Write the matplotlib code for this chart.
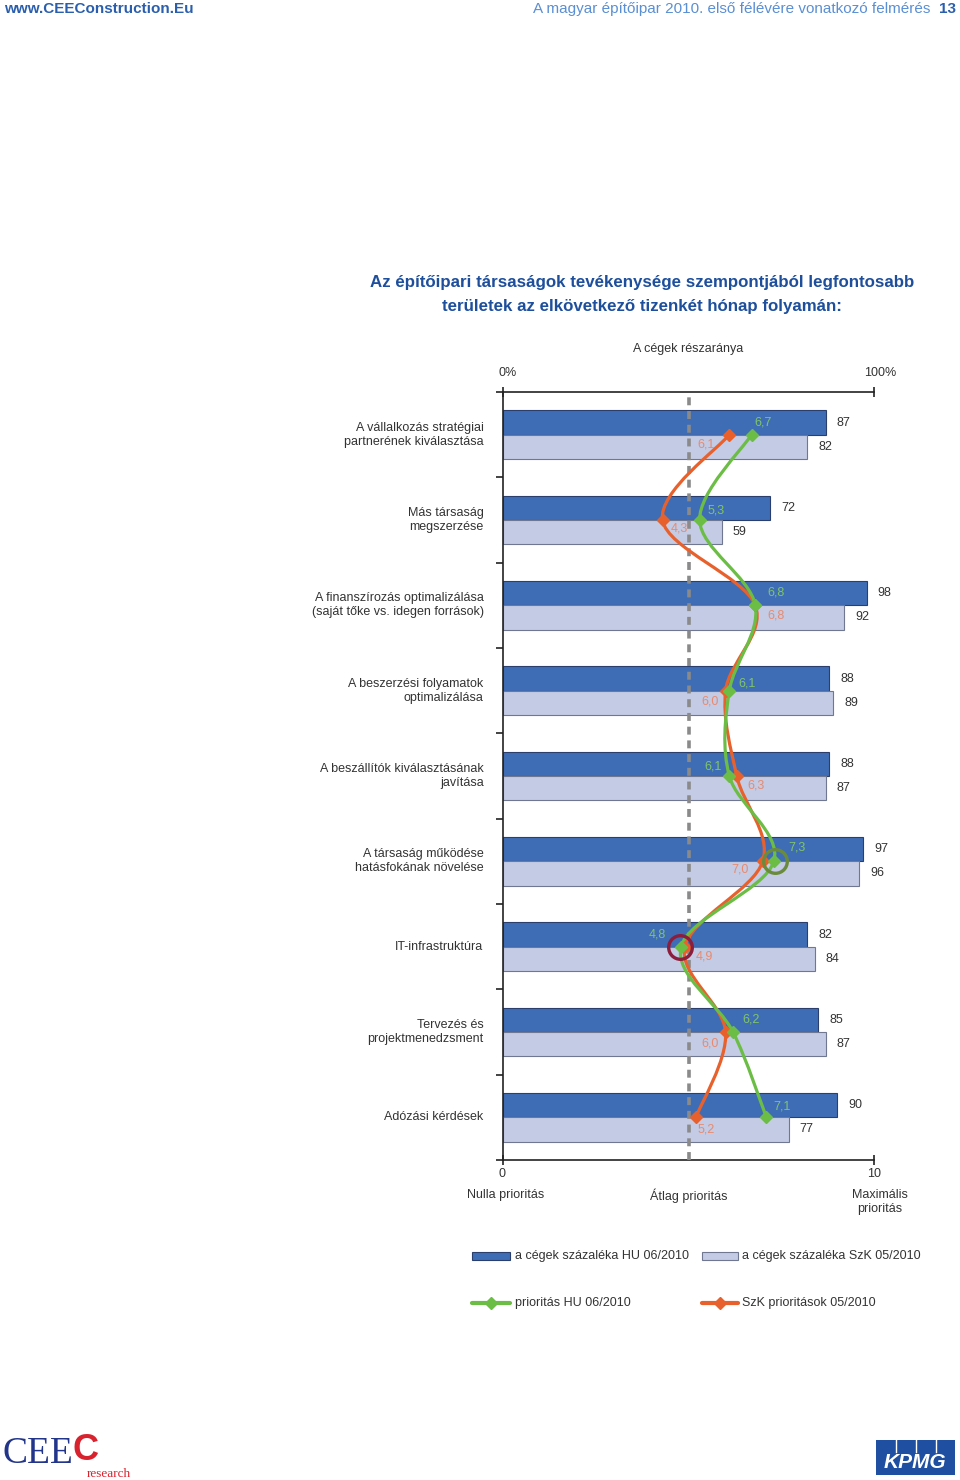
import numpy as np
import matplotlib
matplotlib.use("Agg")
import matplotlib.pyplot as plt
from matplotlib.path import Path
from matplotlib.patches import PathPatch, Rectangle
from matplotlib.lines import Line2D

plt.rcParams['font.family'] = ['Liberation Sans', 'DejaVu Sans']

categories = [
    "A vállalkozás stratégiai\npartnerének kiválasztása",
    "Más társaság\nmegszerzése",
    "A finanszírozás optimalizálása\n(saját tőke vs. idegen források)",
    "A beszerzési folyamatok\noptimalizálása",
    "A beszállítók kiválasztásának\njavítása",
    "A társaság működése\nhatásfokának növelése",
    "IT-infrastruktúra",
    "Tervezés és\nprojektmenedzsment",
    "Adózási kérdések",
]
share_hu = [87, 72, 98, 88, 88, 97, 82, 85, 90]
share_szk = [82, 59, 92, 89, 87, 96, 84, 87, 77]
prio_hu = [6.7, 5.3, 6.8, 6.1, 6.1, 7.3, 4.8, 6.2, 7.1]
prio_szk = [6.1, 4.3, 6.8, 6.0, 6.3, 7.0, 4.9, 6.0, 5.2]

# label offsets in points (dx, dy) for the priority labels
off_hu = [(8, 9), (12, 7), (15, 9), (13, 5), (-12, 7), (17, 10), (-17, 9), (13, 9), (11, 8)]
off_szk = [(-17, -7), (12, -6), (15, -7), (-11, -8), (14, -7), (-16, -6), (14, -7), (-11, -8), (7, -9)]

C_DARK = '#3f6db5'
C_LIGHT = '#c3cbe5'
C_GREEN = '#6cbd45'
C_ORANGE = '#e8612c'
C_GREEN_T = '#7fc46a'
C_ORANGE_T = '#e98a6e'
C_TITLE = '#1d4f9c'
C_TEXT = '#333333'

W, H = 960, 1480
fig = plt.figure(figsize=(W / 100, H / 100), dpi=100)


def fx(px):
    return px / W


def fy(py):
    return 1 - py / H


ax = fig.add_axes([fx(503), fy(1160), fx(874) - fx(503), fy(392) - fy(1160)])
ax.set_xlim(0, 100)
ax.set_ylim(8.5, -0.5)

y = np.arange(len(categories))
bh = 0.285
ax.barh(y - bh / 2, share_hu, height=bh, color=C_DARK, edgecolor='#2b3f6e', linewidth=0.8, zorder=2)
ax.barh(y + bh / 2, share_szk, height=bh, color=C_LIGHT, edgecolor='#6f7890', linewidth=0.8, zorder=2)

for i in range(len(categories)):
    ax.annotate(str(share_hu[i]), (share_hu[i], y[i] - bh / 2), xytext=(8, 0), textcoords='offset points',
                va='center', ha='left', fontsize=9, color=C_TEXT)
    ax.annotate(str(share_szk[i]), (share_szk[i], y[i] + bh / 2), xytext=(8, 0), textcoords='offset points',
                va='center', ha='left', fontsize=9, color=C_TEXT)
    ax.annotate(categories[i], (0, y[i]), xytext=(-14, 0), textcoords='offset points', ha='right',
                va='center', fontsize=9, color=C_TEXT, linespacing=1.25)

# average priority line
ax.axvline(50, color='#8a8a8a', lw=2.6, ls=(0, (2.2, 1.6)), zorder=3)


def smooth_path(xs, ys):
    pts = np.column_stack([xs, ys])
    n = len(pts)
    verts = [pts[0]]
    codes = [Path.MOVETO]
    for i in range(n - 1):
        p0 = pts[i - 1] if i > 0 else pts[i]
        p1 = pts[i]
        p2 = pts[i + 1]
        p3 = pts[i + 2] if i + 2 < n else pts[i + 1]
        c1 = p1 + (p2 - p0) / 6
        c2 = p2 - (p3 - p1) / 6
        verts += [c1, c2, p2]
        codes += [Path.CURVE4] * 3
    return Path(verts, codes)


xh = np.array(prio_hu) * 10
xs = np.array(prio_szk) * 10
ax.add_patch(PathPatch(smooth_path(xs, y), fc='none', ec=C_ORANGE, lw=2.3, zorder=4, capstyle='round'))
ax.add_patch(PathPatch(smooth_path(xh, y), fc='none', ec=C_GREEN, lw=2.3, zorder=5, capstyle='round'))
ax.plot(xs, y, ls='none', marker='D', ms=6, color=C_ORANGE, zorder=6)
ax.plot(xh, y, ls='none', marker='D', ms=6, color=C_GREEN, zorder=6)

for i in range(len(categories)):
    ax.annotate(f"{prio_hu[i]:.1f}".replace('.', ','), (xh[i], y[i]), xytext=off_hu[i], textcoords='offset points',
                ha='center', va='center', fontsize=9, color=C_GREEN_T, zorder=7)
    ax.annotate(f"{prio_szk[i]:.1f}".replace('.', ','), (xs[i], y[i]), xytext=off_szk[i], textcoords='offset points',
                ha='center', va='center', fontsize=9, color=C_ORANGE_T, zorder=7)

# highlight circles
ax.plot([73.2], [5.0], marker='o', ms=17, mfc='none', mec='#6b8b3c', mew=2.4, zorder=8)
ax.plot([47.8], [6.0], marker='o', ms=17, mfc='none', mec='#8c1d3c', mew=2.4, zorder=8)

# spines and ticks
ax.spines['right'].set_visible(False)
for s in ['left', 'top', 'bottom']:
    ax.spines[s].set_color('#222222')
    ax.spines[s].set_linewidth(1.2)
ax.set_yticks(np.arange(-0.5, 8.6, 1.0))
ax.set_yticklabels([])
ax.tick_params(axis='y', length=5, width=1.2, direction='out', color='#222222')
ax.set_xticks([0, 100])
ax.set_xticklabels([])
ax.tick_params(axis='x', top=True, bottom=True, length=7, width=1.2, direction='inout', color='#222222')

# axis texts
fig.text(fx(688), fy(349), "A cégek részaránya", ha='center', va='center', fontsize=9, color=C_TEXT)
fig.text(fx(508), fy(373), "0%", ha='center', va='center', fontsize=9, color=C_TEXT)
fig.text(fx(880), fy(373), "100%", ha='center', va='center', fontsize=9, color=C_TEXT)
fig.text(fx(502), fy(1174), "0", ha='center', va='center', fontsize=9, color=C_TEXT)
fig.text(fx(874), fy(1174), "10", ha='center', va='center', fontsize=9, color=C_TEXT)
fig.text(fx(506), fy(1195), "Nulla prioritás", ha='center', va='center', fontsize=9, color=C_TEXT)
fig.text(fx(689), fy(1196), "Átlag prioritás", ha='center', va='center', fontsize=9, color=C_TEXT)
fig.text(fx(880), fy(1202), "Maximális\nprioritás", ha='center', va='center', fontsize=9, color=C_TEXT,
         linespacing=1.2)

# title
fig.text(fx(642), fy(282), "Az építőipari társaságok tevékenysége szempontjából legfontosabb",
         ha='center', va='center', fontsize=12.2, fontweight='bold', color=C_TITLE)
fig.text(fx(642), fy(307), "területek az elkövetkező tizenkét hónap folyamán:",
         ha='center', va='center', fontsize=12.2, fontweight='bold', color=C_TITLE)

# header
fig.text(fx(4), fy(9), "www.CEEConstruction.Eu", ha='left', va='center', fontsize=11, fontweight='bold',
         color='#2b5fae')
fig.text(fx(930), fy(9), "A magyar építőipar 2010. első félévére vonatkozó felmérés", ha='right', va='center',
         fontsize=11, color='#5a8fd4')
fig.text(fx(956), fy(9), "13", ha='right', va='center', fontsize=11, fontweight='bold', color='#2b5fae')

# legend (manual)
lax = fig.add_axes([0, 0, 1, 1], facecolor='none')
lax.set_xlim(0, W)
lax.set_ylim(H, 0)
lax.axis('off')
lax.add_patch(Rectangle((472, 1252), 38, 8, fc=C_DARK, ec='#2b3f6e', lw=0.8))
lax.add_patch(Rectangle((702, 1252), 36, 8, fc=C_LIGHT, ec='#6f7890', lw=0.8))
lax.text(515, 1256, "a cégek százaléka HU 06/2010", ha='left', va='center', fontsize=9, color=C_TEXT)
lax.text(742, 1256, "a cégek százaléka SzK 05/2010", ha='left', va='center', fontsize=9, color=C_TEXT)
lax.add_line(Line2D([472, 510], [1303, 1303], color=C_GREEN, lw=3, solid_capstyle='round'))
lax.plot([491], [1303], marker='D', ms=6, color=C_GREEN, ls='none')
lax.add_line(Line2D([702, 738], [1303, 1303], color=C_ORANGE, lw=3, solid_capstyle='round'))
lax.plot([720], [1303], marker='D', ms=6, color=C_ORANGE, ls='none')
lax.text(515, 1303, "prioritás HU 06/2010", ha='left', va='center', fontsize=9, color=C_TEXT)
lax.text(742, 1303, "SzK prioritások 05/2010", ha='left', va='center', fontsize=9, color=C_TEXT)

# logos
lax.text(3, 1454, "CEE", ha='left', va='center', fontsize=27, family='Liberation Serif', color='#22358a')
lax.text(73, 1451, "C", ha='left', va='center', fontsize=26, fontweight='bold', color='#d8232f')
lax.text(87, 1474, "research", ha='left', va='center', fontsize=9.5, family='Liberation Serif', color='#d8232f')
lax.add_patch(Rectangle((876, 1440), 79, 35, fc='#1f4fa0', ec='none'))
for xv in [896, 916, 936]:
    lax.plot([xv, xv], [1440, 1452], color='white', lw=1)
lax.text(915, 1463, "KPMG", ha='center', va='center', fontsize=15, fontweight='bold', style='italic',
         color='white')

fig.savefig("out.png", dpi=100, facecolor='white')
